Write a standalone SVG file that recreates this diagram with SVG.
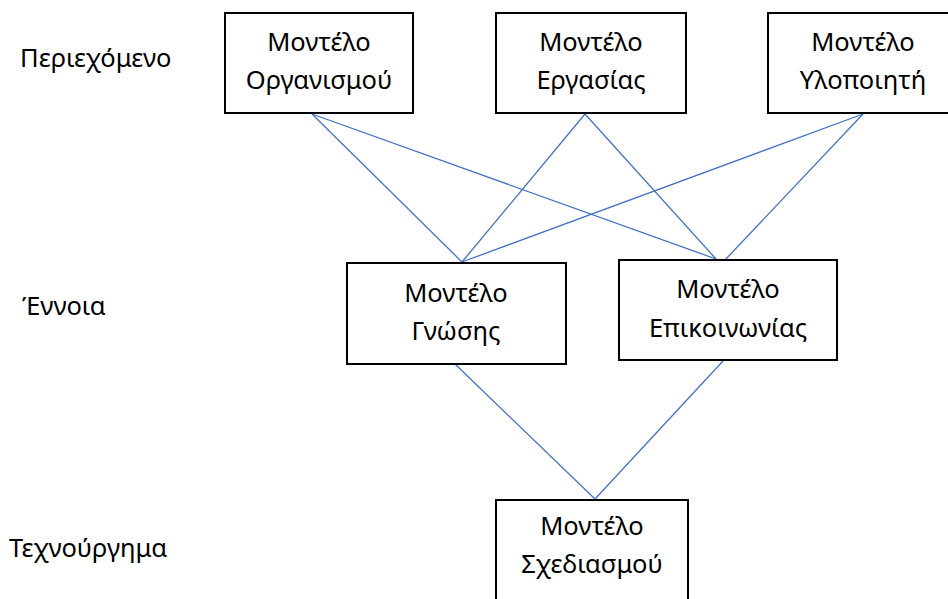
<svg xmlns="http://www.w3.org/2000/svg" width="948" height="599" viewBox="0 0 948 599">
<style>
.box{fill:#fff;stroke:#000;stroke-width:2}
.t{font-family:"Noto Sans","Open Sans",sans-serif;font-size:25.5px;fill:#000;text-anchor:middle}
.lbl{font-family:"Noto Sans","Open Sans",sans-serif;font-size:25.5px;fill:#000}
.c{stroke:#4472C4;stroke-width:1.3;fill:none}
</style>
<rect width="948" height="599" fill="#fff"/>
<g id="connectors">
<line class="c" x1="312" y1="114" x2="462" y2="262"/>
<line class="c" x1="312" y1="114" x2="716" y2="259"/>
<line class="c" x1="585" y1="114" x2="462" y2="262"/>
<line class="c" x1="585" y1="114" x2="716" y2="259"/>
<line class="c" x1="863" y1="114" x2="462" y2="262"/>
<line class="c" x1="863" y1="114" x2="725" y2="260"/>
<line class="c" x1="455" y1="364" x2="595" y2="499"/>
<line class="c" x1="723" y1="361" x2="595" y2="499"/>
</g>
<g id="lbl-content"><text class="lbl" x="20" y="67">Περιεχόμενο</text></g>
<g id="lbl-concept"><text class="lbl" x="22" y="315">Έννοια</text></g>
<g id="lbl-artifact"><text class="lbl" x="9" y="557">Τεχνούργημα</text></g>
<g id="n-org"><rect class="box" x="225" y="13" width="188" height="100"/><text class="t" x="319" y="51">Μοντέλο</text><text class="t" x="319" y="89">Οργανισμού</text></g>
<g id="n-task"><rect class="box" x="496" y="13" width="190" height="100"/><text class="t" x="591" y="51">Μοντέλο</text><text class="t" x="591" y="89">Εργασίας</text></g>
<g id="n-impl"><rect class="box" x="768" y="13" width="192" height="100"/><text class="t" x="863" y="51">Μοντέλο</text><text class="t" x="863" y="89">Υλοποιητή</text></g>
<g id="n-know"><rect class="box" x="347" y="263" width="219" height="101"/><text class="t" x="456" y="302">Μοντέλο</text><text class="t" x="456" y="340">Γνώσης</text></g>
<g id="n-comm"><rect class="box" x="619" y="260" width="218" height="100"/><text class="t" x="728" y="298">Μοντέλο</text><text class="t" x="728" y="337">Επικοινωνίας</text></g>
<g id="n-design"><rect class="box" x="496" y="500" width="192" height="110"/><text class="t" x="592" y="535">Μοντέλο</text><text class="t" x="592" y="573">Σχεδιασμού</text></g>
</svg>
